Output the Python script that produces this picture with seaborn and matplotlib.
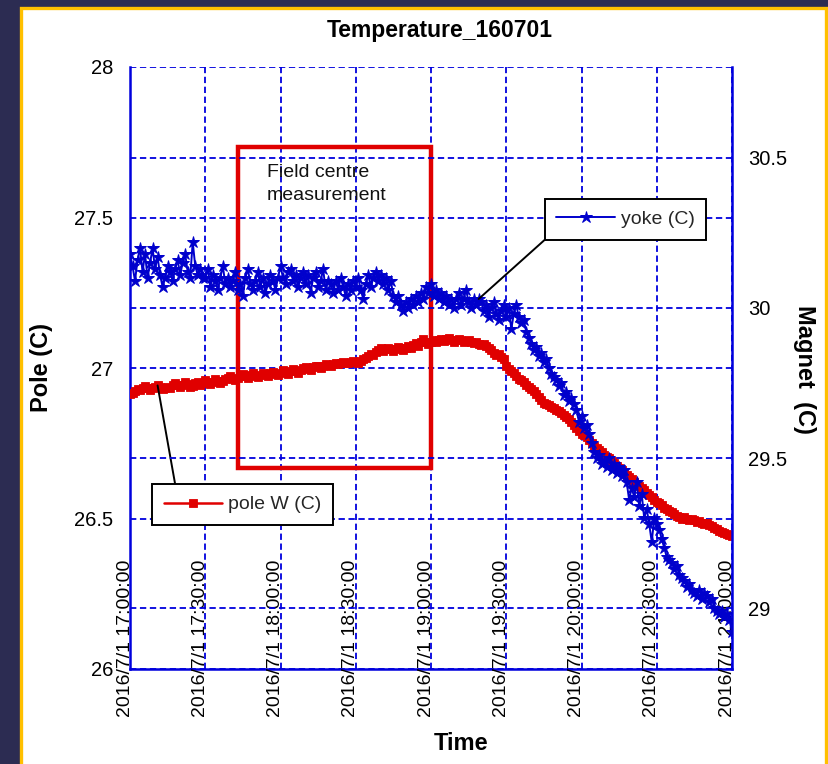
import matplotlib
matplotlib.use("Agg")
import matplotlib.pyplot as plt
import matplotlib.dates as mdates
import matplotlib.transforms as mtransforms
from matplotlib.patches import Rectangle
from matplotlib.lines import Line2D
import pandas as pd
import seaborn as sns

# Pole W temperature (left axis), one reading per minute from 17:00 to 21:00
pole_w = [
    26.915, 26.918, 26.922, 26.930, 26.928, 26.935, 26.940, 26.932, 26.928, 26.935,
    26.938, 26.942, 26.936, 26.930, 26.934, 26.938, 26.935, 26.945, 26.950, 26.942,
    26.938, 26.944, 26.952, 26.948, 26.936, 26.940, 26.950, 26.955, 26.945, 26.950,
    26.960, 26.952, 26.948, 26.955, 26.962, 26.958, 26.950, 26.956, 26.962, 26.968,
    26.972, 26.965, 26.960, 26.966, 26.975, 26.980, 26.972, 26.968, 26.978, 26.982,
    26.975, 26.970, 26.978, 26.985, 26.980, 26.975, 26.982, 26.988, 26.980, 26.978,
    26.985, 26.992, 26.986, 26.980, 26.990, 26.996, 26.990, 26.985, 26.994, 27.000,
    27.004, 26.998, 26.995, 27.002, 27.008, 27.005, 27.000, 27.006, 27.012, 27.010,
    27.008, 27.014, 27.018, 27.012, 27.016, 27.020, 27.018, 27.015, 27.020, 27.024,
    27.020, 27.018, 27.024, 27.030, 27.034, 27.040, 27.048, 27.044, 27.052, 27.060,
    27.066, 27.058, 27.062, 27.068, 27.064, 27.058, 27.064, 27.070, 27.066, 27.060,
    27.066, 27.072, 27.068, 27.076, 27.082, 27.074, 27.085, 27.098, 27.088, 27.080,
    27.085, 27.092, 27.088, 27.094, 27.098, 27.090, 27.096, 27.100, 27.094, 27.088,
    27.092, 27.098, 27.094, 27.086, 27.090, 27.094, 27.088, 27.082, 27.086, 27.080,
    27.076, 27.080, 27.072, 27.066, 27.060, 27.050, 27.044, 27.048, 27.038, 27.030,
    27.005, 26.998, 26.990, 26.982, 26.975, 26.965, 26.960, 26.952, 26.945, 26.938,
    26.930, 26.922, 26.915, 26.905, 26.895, 26.885, 26.880, 26.876, 26.872, 26.866,
    26.862, 26.858, 26.852, 26.845, 26.838, 26.830, 26.822, 26.812, 26.802, 26.792,
    26.782, 26.776, 26.770, 26.762, 26.750, 26.740, 26.734, 26.726, 26.720, 26.712,
    26.704, 26.700, 26.692, 26.684, 26.676, 26.668, 26.660, 26.652, 26.646, 26.638,
    26.630, 26.622, 26.614, 26.608, 26.600, 26.594, 26.586, 26.578, 26.570, 26.562,
    26.556, 26.550, 26.544, 26.536, 26.530, 26.524, 26.520, 26.514, 26.508, 26.504,
    26.500, 26.506, 26.498, 26.494, 26.500, 26.496, 26.490, 26.492, 26.486, 26.482,
    26.485, 26.480, 26.474, 26.470, 26.464, 26.460, 26.456, 26.452, 26.448, 26.446,
    26.442,
]

# Yoke temperature (right axis, "Magnet"), same time base
yoke = [
    30.18, 30.14, 30.09, 30.16, 30.20, 30.12, 30.18, 30.10, 30.15, 30.20,
    30.13, 30.17, 30.11, 30.07, 30.10, 30.14, 30.12, 30.09, 30.13, 30.16,
    30.11, 30.15, 30.18, 30.12, 30.10, 30.22, 30.14, 30.11, 30.13, 30.10,
    30.10, 30.13, 30.07, 30.11, 30.09, 30.06, 30.10, 30.14, 30.08, 30.10,
    30.07, 30.09, 30.12, 30.06, 30.08, 30.04, 30.10, 30.13, 30.08, 30.06,
    30.09, 30.12, 30.07, 30.10, 30.05, 30.08, 30.11, 30.09, 30.06, 30.10,
    30.14, 30.10, 30.08, 30.12, 30.13, 30.09, 30.11, 30.07, 30.10, 30.12,
    30.08, 30.11, 30.05, 30.10, 30.12, 30.07, 30.09, 30.13, 30.06, 30.09,
    30.08, 30.05, 30.09, 30.06, 30.10, 30.07, 30.04, 30.08, 30.06, 30.09,
    30.07, 30.10, 30.06, 30.03, 30.08, 30.11, 30.07, 30.10, 30.12, 30.09,
    30.11, 30.08, 30.10, 30.06, 30.09, 30.04, 30.02, 30.04, 30.01, 29.99,
    30.02, 30.00, 30.03, 30.01, 30.04, 30.02, 30.05, 30.03, 30.07, 30.05,
    30.08, 30.04, 30.06, 30.03, 30.05, 30.02, 30.04, 30.01, 30.03, 30.00,
    30.03, 30.05, 30.01, 30.03, 30.06, 30.02, 30.00, 30.03, 30.01, 30.03,
    30.02, 29.99, 30.01, 29.97, 30.00, 30.02, 29.98, 29.96, 29.99, 30.01,
    29.97, 30.00, 29.93, 29.98, 30.01, 29.97, 29.95, 29.96, 29.92, 29.90,
    29.88, 29.86, 29.87, 29.84, 29.85, 29.82, 29.83, 29.80, 29.78, 29.77,
    29.76, 29.74, 29.75, 29.71, 29.72, 29.69, 29.70, 29.68, 29.66, 29.62,
    29.64, 29.60, 29.61, 29.58, 29.55, 29.52, 29.50, 29.51, 29.48, 29.49,
    29.47, 29.50, 29.46, 29.48, 29.45, 29.47, 29.44, 29.46, 29.42, 29.36,
    29.40, 29.37, 29.42, 29.34, 29.38, 29.30, 29.33, 29.28, 29.22, 29.30,
    29.28, 29.26, 29.23, 29.20, 29.17, 29.16, 29.15, 29.13, 29.14, 29.11,
    29.10, 29.09, 29.07, 29.08, 29.06, 29.05, 29.04, 29.06, 29.03, 29.05,
    29.04, 29.02, 29.03, 29.00, 28.99, 28.98, 28.99, 28.97, 28.98, 28.96,
    28.92,
]

times = pd.date_range("2016-07-01 17:00:00", periods=len(pole_w), freq="1min")
tick_times = pd.date_range("2016-07-01 17:00:00", "2016-07-01 21:00:00", freq="30min")
tick_labels = ["2016/7/1 " + t.strftime("%H:%M:%S") for t in tick_times]
pole_ticks = [26, 26.5, 27, 27.5, 28]
pole_tick_labels = ["26", "26.5", "27", "27.5", "28"]
magnet_ticks = [29, 29.5, 30, 30.5]
magnet_tick_labels = ["29", "29.5", "30", "30.5"]
pole_range = (26.0, 28.0)
magnet_range = (28.797, 30.803)

# highlighted window: field centre measurement
window_start = pd.Timestamp("2016-07-01 17:43:00")
window_end = pd.Timestamp("2016-07-01 19:00:00")
window_low, window_high = 26.668, 27.734

df = pd.DataFrame({"time": times, "pole W (C)": pole_w, "yoke (C)": yoke})

sns.set_theme(style="white")
plt.rcParams["font.family"] = ["Liberation Sans", "DejaVu Sans"]

RED = "#e00000"
BLUE = "#0000cc"
GRID = "#0000dd"
NAVY = "#2c2c52"
GOLD = "#ffc000"

fig = plt.figure(figsize=(8.29, 7.64), dpi=100, facecolor=NAVY)
panel = Rectangle((21 / 829, -0.05), 805 / 829, 1.05 - 8 / 764,
                  transform=fig.transFigure, facecolor="white",
                  edgecolor=GOLD, linewidth=2.4, zorder=-10)
fig.patches.append(panel)

ax1 = fig.add_axes([130 / 829, 1 - 669 / 764, 602 / 829, 602 / 764])
ax1.set_facecolor("none")
ax2 = ax1.twinx()
ax2.set_facecolor("none")

grid_kw = dict(color=GRID, linestyle=(0, (3.5, 2)), linewidth=1.3)

pole_style = dict(color=RED, marker="s", markersize=5.2, markeredgewidth=0.6,
                  markeredgecolor=RED, linewidth=1.8)
yoke_style = dict(color=BLUE, marker="*", markersize=9, markeredgewidth=0.7,
                  markeredgecolor=BLUE, linewidth=1.4)

sns.lineplot(data=df, x="time", y="pole W (C)", ax=ax1, zorder=3, **pole_style)
sns.lineplot(data=df, x="time", y="yoke (C)", ax=ax2, zorder=3, **yoke_style)

ax1.set_xlim(times[0], times[-1])
ax1.set_ylim(*pole_range)
ax2.set_ylim(*magnet_range)

ax1.set_xticks(tick_times)
ax1.set_xticklabels([])
ax1.set_yticks(pole_ticks)
ax1.set_yticklabels(pole_tick_labels)
ax2.set_yticks(magnet_ticks)
ax2.set_yticklabels(magnet_tick_labels)

ax1.grid(True, axis="both", **grid_kw)
ax2.grid(True, axis="y", **grid_kw)
ax1.set_axisbelow(True)
ax2.set_axisbelow(True)

ax1.tick_params(axis="y", length=0, pad=12, labelsize=14.5, labelcolor="black")
ax1.tick_params(axis="x", length=0)
ax2.tick_params(axis="y", length=0, pad=11.5, labelsize=14.5, labelcolor="black")

for sp in ("top", "right"):
    ax1.spines[sp].set_visible(False)
for sp in ("top", "left", "bottom"):
    ax2.spines[sp].set_visible(False)
for sp in ("left", "bottom"):
    ax1.spines[sp].set_color(GRID)
    ax1.spines[sp].set_linewidth(1.8)
ax2.spines["right"].set_color(GRID)
ax2.spines["right"].set_linewidth(1.8)

ax1.set_xlabel("")
ax1.set_ylabel("")
ax2.set_ylabel("")

# rotated date labels sitting over the lower part of the plot area
xfix = mtransforms.blended_transform_factory(ax1.transData, ax1.transAxes)
for t, lbl in zip(tick_times, tick_labels):
    ax1.annotate(lbl, xy=(mdates.date2num(t), 0), xycoords=xfix,
                 xytext=(-5, -48), textcoords="offset pixels",
                 rotation=90, ha="center", va="bottom", fontsize=14,
                 color="black", annotation_clip=False)

# highlighted measurement window
t0 = mdates.date2num(window_start)
t1 = mdates.date2num(window_end)
ax1.add_patch(Rectangle((t0, window_low), t1 - t0, window_high - window_low,
                        fill=False, edgecolor=RED, linewidth=3.2, zorder=4))
ax1.text(0.2276, 0.805, "Field centre\nmeasurement", transform=ax1.transAxes,
         ha="left", va="center", fontsize=14, color="#111111",
         linespacing=1.45, zorder=5)

# callout legends with leader lines
yoke_idx, pole_idx = 139, 11
ax2.annotate("", xy=(mdates.date2num(times[yoke_idx]), yoke[yoke_idx]),
             xycoords="data", xytext=(0.689, 0.713), textcoords="axes fraction",
             arrowprops=dict(arrowstyle="-", color="black", lw=1.4,
                             shrinkA=0, shrinkB=0), zorder=6)
ax1.annotate("", xy=(mdates.date2num(times[pole_idx]), pole_w[pole_idx]),
             xycoords="data", xytext=(0.075, 0.307), textcoords="axes fraction",
             arrowprops=dict(arrowstyle="-", color="black", lw=1.4,
                             shrinkA=0, shrinkB=0), zorder=6)

leg_kw = dict(loc="lower left", frameon=True, fancybox=False, framealpha=1,
              edgecolor="black", borderpad=0.6, handlelength=3.0,
              handletextpad=0.3, borderaxespad=0, fontsize=14)
h_yoke = Line2D([], [], **yoke_style)
h_pole = Line2D([], [], **pole_style)
leg1 = ax2.legend([h_yoke], ["yoke (C)"], bbox_to_anchor=(0.689, 0.713), **leg_kw)
leg1.get_frame().set_linewidth(1.4)
ax2.add_artist(leg1)
leg2 = ax2.legend([h_pole], ["pole W (C)"], bbox_to_anchor=(0.0365, 0.239), **leg_kw)
leg2.get_frame().set_linewidth(1.4)

# titles
fig.text(440 / 829, 1 - 31 / 764, "Temperature_160701", ha="center", va="center",
         fontsize=16.5, fontweight="bold", color="black")
fig.text(461 / 829, 1 - 744 / 764, "Time", ha="center", va="center",
         fontsize=17, fontweight="bold", color="black")
fig.text(42 / 829, 1 - 367 / 764, "Pole (C)", ha="center", va="center",
         rotation=90, fontsize=17, fontweight="bold", color="black")
fig.text(805 / 829, 1 - 369 / 764, "Magnet  (C)", ha="center", va="center",
         rotation=-90, fontsize=17, fontweight="bold", color="black")

fig.savefig("out.png", dpi=100, facecolor=NAVY)
